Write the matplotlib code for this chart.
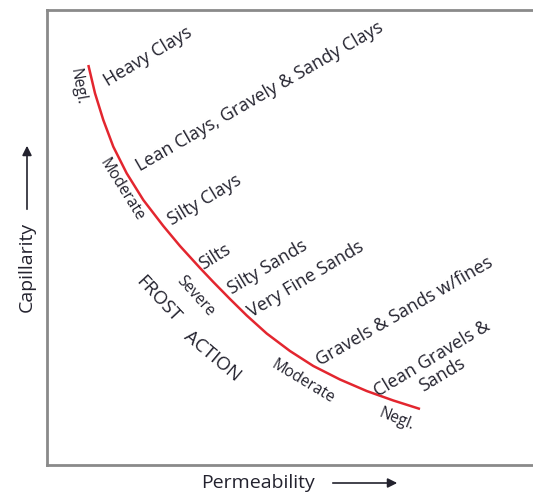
import matplotlib
matplotlib.use("Agg")
import matplotlib.pyplot as plt
from matplotlib.patches import FancyArrowPatch

plt.rcParams['font.family'] = ['Open Sans', 'DejaVu Sans']

# boundary curve between frost action classes (permeability, capillarity), 0-100 scale
perm = [8.52, 9.90, 11.61, 13.67, 16.43, 19.86, 23.98, 27.42, 31.55, 34.29, 37.73,
        41.18, 45.30, 50.10, 54.91, 60.41, 65.92, 71.40, 76.91]
cap = [87.91, 81.69, 75.82, 69.96, 64.11, 58.24, 52.53, 48.13, 43.30, 40.22, 36.48,
       32.86, 28.90, 25.05, 21.76, 18.79, 16.26, 14.18, 12.31]

# soil types above the curve
soils = ["Heavy Clays", "Lean Clays, Gravely & Sandy Clays", "Silty Clays", "Silts",
         "Silty Sands", "Very Fine Sands", "Gravels & Sands w/fines", "Clean Gravels &\nSands"]
soil_x = [20.8, 43.9, 32.6, 34.6, 45.4, 53.3, 73.8, 80.4]
soil_y = [89.7, 80.9, 58.2, 45.7, 43.5, 40.9, 33.8, 21.5]
soil_rot = [31, 30, 31, 32, 31, 31, 30, 31]

# frost action classes below the curve
classes = ["Negl.", "Moderate", "Severe", "Moderate", "Negl."]
class_x = [6.2, 15.3, 30.7, 52.8, 72.0]
class_y = [83.1, 60.4, 37.1, 18.2, 9.9]
class_rot = [-80, -58, -48, -31, -22]

txt = '#23222e'
red = '#e3262f'

fig = plt.figure(figsize=(5.33, 4.95), dpi=100)
ax = fig.add_axes([47 / 533, 30 / 495, 485 / 533, 455 / 495])
ax.set_xlim(0, 100)
ax.set_ylim(0, 100)
ax.set_xticks([])
ax.set_yticks([])
for s in ax.spines.values():
    s.set_color('#8a8a8a')
    s.set_linewidth(2)
ax.spines['right'].set_visible(False)

ax.plot(perm, cap, color=red, lw=1.8, solid_capstyle='butt', solid_joinstyle='round')

for t, x, y, r in zip(soils, soil_x, soil_y, soil_rot):
    ax.text(x, y, t, rotation=r, rotation_mode='anchor', ha='center', va='center',
            fontsize=13, color=txt, multialignment='center', linespacing=1.05)

for t, x, y, r in zip(classes, class_x, class_y, class_rot):
    ax.text(x, y, t, rotation=r, rotation_mode='anchor', ha='center', va='center',
            fontsize=11.2, color=txt)

ax.text(22.9, 36.5, "FROST", rotation=-47, rotation_mode='anchor', ha='center', va='center',
        fontsize=13.5, color=txt)
ax.text(34.0, 24.0, "ACTION", rotation=-40, rotation_mode='anchor', ha='center', va='center',
        fontsize=13.5, color=txt)

# axis titles with arrows
fig.text(27 / 533, 1 - 267 / 495, "Capillarity", rotation=90, ha='center', va='center',
         fontsize=14, color=txt)
fig.add_artist(FancyArrowPatch((27 / 533, 1 - 212 / 495), (27 / 533, 1 - 143 / 495),
               transform=fig.transFigure, arrowstyle='-|>', mutation_scale=14, color=txt, lw=1.2))
fig.text(258 / 533, 1 - 483 / 495, "Permeability", ha='center', va='center',
         fontsize=14, color=txt)
fig.add_artist(FancyArrowPatch((330 / 533, 1 - 483 / 495), (400 / 533, 1 - 483 / 495),
               transform=fig.transFigure, arrowstyle='-|>', mutation_scale=14, color=txt, lw=1.2))

fig.savefig("out.png", dpi=100, facecolor='white')
